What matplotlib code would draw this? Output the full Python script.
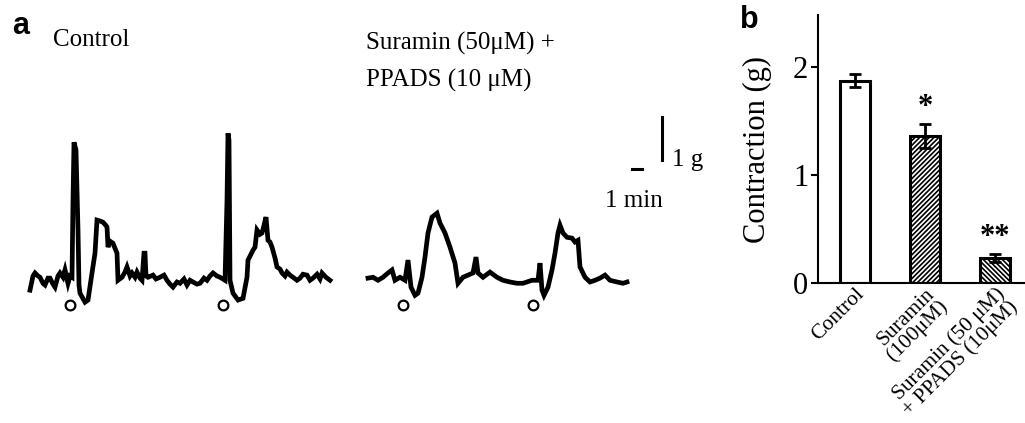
import matplotlib.pyplot as plt

# ---------- DATA ----------
# panel a: tension traces, time in min from start of trace, tension in g
ctrl_t = [0.0, 0.3, 0.5, 0.8, 1.0, 1.3, 1.5, 1.8, 2.0, 2.3, 2.5, 2.8, 3.0, 3.3, 3.5, 3.8, 4.0, 4.2,
          4.3, 4.4, 4.6, 4.8, 4.9, 5.0, 5.5, 5.8, 6.2, 6.5, 6.7, 7.0, 7.3, 7.5, 7.7, 7.8, 8.0,
          8.3, 8.7, 8.8, 9.2, 9.5, 9.7, 10.0, 10.2, 10.5, 10.7, 11.0, 11.2, 11.4, 11.5, 11.6, 11.8,
          12.3, 12.6, 13.0, 13.4, 13.7, 14.0, 14.3, 14.7, 15.0, 15.4, 15.7, 16.0, 16.3, 16.7,
          17.0, 17.4, 17.7, 18.0, 18.3, 18.7, 19.0, 19.3, 19.5, 19.7, 19.8, 19.9, 20.0, 20.3,
          20.8, 21.3, 21.7, 21.8, 22.0, 22.3, 22.5, 22.7, 23.0, 23.2, 23.4, 23.6, 23.8, 24.0,
          24.2, 24.5, 24.7, 25.0, 25.2, 25.5, 25.7, 26.0, 26.3, 26.7, 27.0, 27.3, 27.7, 28.0,
          28.3, 28.7, 29.0, 29.2, 29.6, 30.0]
ctrl_g = [-0.28, 0.05, 0.12, 0.05, 0.02, -0.12, -0.16, 0.0, 0.0, -0.14, -0.21, 0.05, 0.12, 0.02,
          0.19, -0.12, 0.05, 0.02, 1.81, 3.16, 2.98, 1.12, -0.16, -0.35, -0.56, -0.51, 0.12, 0.58,
          1.35, 1.33, 1.30, 1.25, 1.19, 0.72, 0.86, 0.81, 0.58, -0.05, 0.02, 0.14, 0.26, 0.05,
          0.12, 0.02, 0.14, 0.0, -0.05, 0.58, 0.58, 0.05, 0.02, 0.07, -0.02, 0.02, 0.07, -0.05,
          -0.14, -0.21, -0.09, -0.12, -0.02, -0.16, -0.05, -0.09, -0.14, -0.12, 0.0, -0.05,
          0.05, 0.12, 0.05, 0.02, -0.02, -0.05, 1.81, 3.37, 3.21, -0.05, -0.35, -0.51, -0.47,
          0.02, 0.42, 0.51, 0.65, 0.72, 1.12, 1.02, 1.05, 1.23, 1.42, 0.88, 0.84, 0.72, 0.47,
          0.26, 0.21, 0.12, 0.05, 0.14, 0.07, 0.02, -0.05, 0.0, 0.09, 0.07, -0.05, 0.0, 0.09,
          -0.02, 0.12, 0.02, -0.05]

supp_t = [0.0, 0.5, 1.0, 1.5, 2.0, 2.4, 2.7, 3.2, 3.7, 4.0, 4.3, 4.7, 5.0, 5.4, 5.7, 6.0, 6.4,
          6.9, 7.2, 7.7, 8.2, 8.7, 9.0, 9.5, 10.0, 10.5, 10.8, 11.0, 11.5, 12.2, 12.9, 13.5,
          14.2, 14.9, 15.5, 16.4, 17.0, 17.2, 17.4, 17.6, 18.0, 18.4, 18.7, 19.0, 19.2, 19.5,
          19.9, 20.4, 20.7, 21.0, 21.2, 21.7, 22.2, 22.7, 23.2, 23.7, 24.2, 24.9, 25.5, 25.9]
supp_g = [0.0, 0.02, -0.05, 0.02, 0.12, 0.19, -0.05, 0.02, -0.05, 0.42, -0.21, -0.40, -0.35,
          0.02, 0.49, 1.05, 1.42, 1.51, 1.28, 1.05, 0.72, 0.35, -0.12, 0.02, 0.07, 0.12, 0.49,
          0.12, 0.02, 0.14, 0.02, -0.05, -0.09, -0.12, -0.12, -0.05, -0.05, 0.35, -0.28, -0.40,
          -0.21, 0.19, 0.58, 1.05, 1.23, 1.05, 0.95, 0.93, 0.84, 0.88, 0.26, 0.02, -0.09, -0.05,
          0.0, 0.07, -0.05, -0.09, -0.12, -0.09]

ctrl_stim = [4.0, 19.3]
supp_stim = [3.5, 16.5]

# panel b: contraction
groups = ["Control", "Suramin\n(100\u03bcM)", "Suramin (50 \u03bcM)\n+ PPADS (10\u03bcM)"]
means = [1.87, 1.36, 0.23]
sems = [0.06, 0.11, 0.04]
signif = ["", "*", "**"]

plt.rcParams['font.family'] = ['Liberation Serif', 'DejaVu Serif']
plt.rcParams['hatch.linewidth'] = 1.2

fig = plt.figure(figsize=(10.25, 4.23), dpi=100)

# ---------- PANEL A ----------
ax = fig.add_axes([0, 0, 700 / 1025, 1])
ax.set_xlim(0, 70)
ax.set_ylim(-3.37, 6.47)
ax.axis("off")

ctrl_x0 = 3.0
supp_x0 = 36.8
ax.plot([t + ctrl_x0 for t in ctrl_t], ctrl_g, color="black", lw=3.4, solid_joinstyle="miter")
ax.plot([t + supp_x0 for t in supp_t], supp_g, color="black", lw=3.4, solid_joinstyle="miter")
ax.plot([t + ctrl_x0 for t in ctrl_stim], [-0.63] * 2, "o", mfc="white", mec="black", ms=7, mew=1.6)
ax.plot([t + supp_x0 for t in supp_stim], [-0.63] * 2, "o", mfc="white", mec="black", ms=7, mew=1.6)

# scale bars
ax.plot([66.2, 66.2], [2.74, 3.74], color="black", lw=2.2)
ax.plot([63.2, 64.2], [2.53, 2.53], color="black", lw=2.2)
ax.text(67.2, 2.74, "1 g", fontsize=18, va="center", ha="left")
ax.text(63.4, 1.8, "1 min", fontsize=18, va="center", ha="center")

fig.text(12 / 1025, 1 - 26 / 423, "a", fontsize=22, fontweight="bold",
         family="Liberation Sans", va="center", ha="left")
fig.text(53 / 1025, 1 - 40 / 423, "Control", fontsize=18, va="center", ha="left")
fig.text(366 / 1025, 1 - 43 / 423, "Suramin (50\u03bcM) +", fontsize=18, va="center", ha="left")
fig.text(366 / 1025, 1 - 80 / 423, "PPADS (10 \u03bcM)", fontsize=18, va="center", ha="left")

# ---------- PANEL B ----------
bx = fig.add_axes([818 / 1025, 1 - 283 / 423, 207 / 1025, 268 / 423])
x = list(range(len(groups)))
hatches = [None, "///////", "\\\\\\\\\\\\\\"]
for i in x:
    bx.bar(i, means[i], width=0.44, color="white", edgecolor="black", lw=2.2,
           hatch=hatches[i], zorder=2)
    bx.errorbar(i, means[i], yerr=sems[i], color="black", capsize=4, lw=2, capthick=2, zorder=3)
    if signif[i]:
        bx.text(i, means[i] + sems[i] + 0.15, signif[i], fontsize=22, fontweight="bold",
                ha="center", va="center")

bx.set_xlim(-0.53, 2.43)
bx.set_ylim(0, 2.48)
bx.set_yticks([0, 1, 2])
bx.set_yticklabels(["0", "1", "2"], fontsize=22)
bx.set_xticks(x)
bx.set_xticklabels(groups, rotation=45, ha="right", rotation_mode="anchor", fontsize=15.5,
                   linespacing=0.9)
bx.tick_params(axis="x", length=0, pad=1)
bx.tick_params(axis="y", direction="out", length=5, width=1.5, pad=2)
bx.spines["top"].set_visible(False)
bx.spines["right"].set_visible(False)
bx.spines["left"].set_linewidth(1.5)
bx.spines["bottom"].set_linewidth(1.5)
bx.set_ylabel("Contraction (g)", fontsize=22)
bx.yaxis.set_label_coords(-0.22, 0.5)
bx.patch.set_alpha(0)

fig.text(740 / 1025, 1 - 20 / 423, "b", fontsize=22, fontweight="bold",
         family="Liberation Sans", va="center", ha="left")

fig.savefig("out.png", dpi=100)
